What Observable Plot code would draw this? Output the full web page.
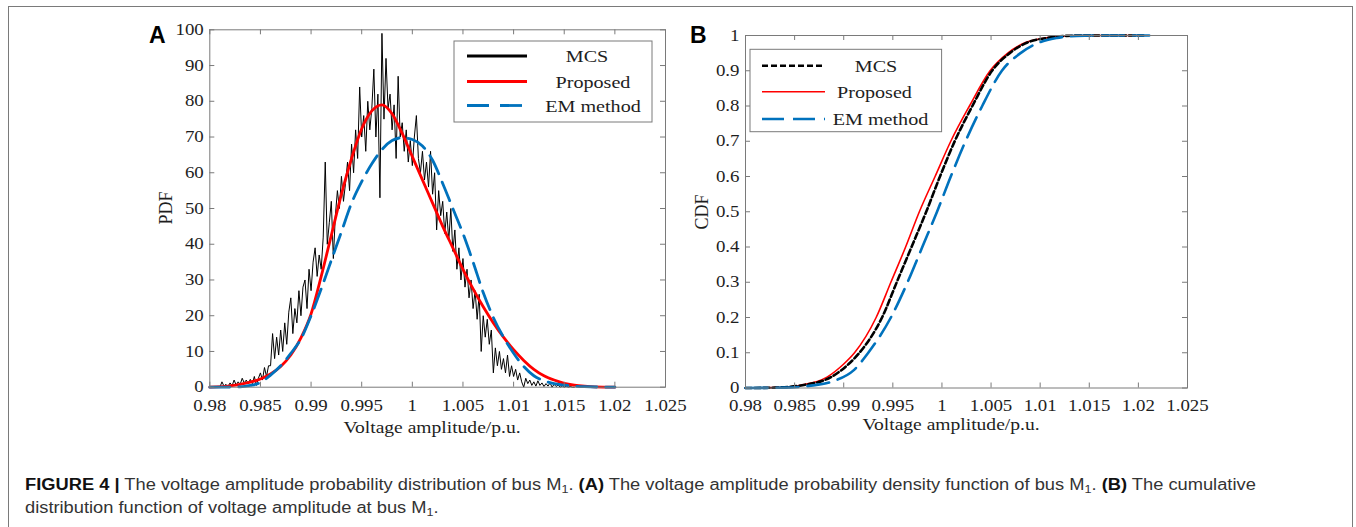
<!DOCTYPE html>
<html><head><meta charset="utf-8">
<script src="https://cdn.jsdelivr.net/npm/d3@7"></script>
<script src="https://cdn.jsdelivr.net/npm/@observablehq/plot@0.6"></script>
<style>
body{margin:0;background:#fff;width:1356px;height:527px;position:relative;overflow:hidden;}
#frame{position:absolute;left:8px;top:6px;width:1343px;height:540px;border:1px solid #7a7a7a;border-bottom:none;}
#pa{position:absolute;left:0;top:0}
#pb{position:absolute;left:680px;top:0}
#pa svg,#pb svg{overflow:visible}
#overlay{position:absolute;left:0;top:0;pointer-events:none}
#caption{position:absolute;left:25px;top:473px;font:16px/23px "Liberation Sans",Arial,sans-serif;color:#333;white-space:nowrap;transform:scaleX(1.143);transform-origin:0 0}
#caption b{color:#111}
#caption sub{font-size:11px;vertical-align:-3px;line-height:0}
</style></head><body>
<div id="frame"></div>
<div id="pa"></div>
<div id="pb"></div>
<div id="caption"><b>FIGURE 4 |</b> The voltage amplitude probability distribution of bus M<sub>1</sub>. <b>(A)</b> The voltage amplitude probability density function of bus M<sub>1</sub>. <b>(B)</b> The cumulative<br>distribution function of voltage amplitude at bus M<sub>1</sub>.</div>
<script>
// ---------- DATA ----------
const xTicks = [0.98, 0.985, 0.99, 0.995, 1, 1.005, 1.01, 1.015, 1.02, 1.025];
const pdfTicks = [0, 10, 20, 30, 40, 50, 60, 70, 80, 90, 100];
const cdfTicks = [0, 0.1, 0.2, 0.3, 0.4, 0.5, 0.6, 0.7, 0.8, 0.9, 1];
const seriesNames = ["MCS", "Proposed", "EM method"];

// Panel A: MCS histogram-based PDF (bins of 0.0002 starting at 0.981)
const mcsBinStart = 0.981, mcsBinWidth = 0.0002;
const mcsPdf = [
  0, 1.5, 0.3, 0.8, 0.2,
  1.2, 0.4, 2.0, 0.6, 1.5,
  0.8, 2.5, 1.2, 2.0, 1.0,
  2.2, 1.0, 3.0, 0.5, 2.5,
  4.0, 2.0, 5.5, 3.0, 6.0,
  6, 15, 8, 14, 9,
  16, 10, 18, 12, 21,
  25, 15, 22, 18, 27,
  20, 28, 30, 22, 33,
  27, 35, 39, 31, 37,
  33, 42, 63, 40, 46,
  52, 36, 48, 55, 50,
  59, 52, 57, 63, 55,
  68, 60, 72, 64, 84,
  70, 76, 66, 80, 72,
  78, 89, 70, 82, 53,
  99, 75, 92, 78, 82,
  72, 79, 64, 87, 70,
  74, 66, 72, 63, 69,
  62, 70, 76, 64, 60,
  66, 58, 63, 56, 66,
  54, 60, 44, 55, 48,
  52, 43, 49, 41, 50,
  38, 44, 33, 39, 30,
  36, 28, 33, 25, 30,
  22, 27, 19, 26, 10,
  20, 14, 19, 12, 16,
  4, 11, 6, 10, 5,
  8, 4, 9, 3, 6,
  3, 5, 2, 4, 1.5,
  0, 2.5, 1, 2, 0.5,
  1.5, 0.3, 1.8, 0.5, 1.2,
  0.2, 1.0, 0.3, 1.2, 0,
  0.8, 0.2, 0.6, 0, 0.4,
  0, 0.3, 0, 0.2, 0,
  0
];
const propPdfX = [0.980,0.982,0.983,0.984,0.985,0.986,0.987,0.988,0.989,0.990,0.991,0.992,0.993,0.994,0.995,0.996,0.997,0.998,0.999,1.000,1.001,1.002,1.003,1.004,1.005,1.006,1.007,1.008,1.009,1.010,1.011,1.012,1.013,1.014,1.015,1.016,1.017,1.018,1.020];
const propPdfY = [0,0.4,0.8,1.4,2.3,3.7,5.8,9,13.8,20.5,31,42.5,54,64,72.3,77.3,79,76.5,71,64.5,58,51.5,45,39,33,27.5,22.5,18,14,10.5,7.5,5,3.2,2,1.1,0.6,0.3,0.1,0];
const emPdfX = [0.980,0.983,0.984,0.985,0.986,0.987,0.988,0.989,0.990,0.991,0.992,0.993,0.994,0.995,0.996,0.997,0.998,0.999,1.000,1.001,1.002,1.003,1.004,1.005,1.006,1.007,1.008,1.009,1.010,1.011,1.012,1.013,1.014,1.015,1.016,1.017,1.020];
const emPdfY = [0,0.1,0.5,1.3,3.4,6,9.5,13.5,20,27.5,35.5,43.5,51.5,57.5,62.5,66.5,69,69.8,69.3,67.5,63.5,57,50,43,35,26.5,19.5,14,9.5,5.8,3.2,1.8,1.0,0.6,0.3,0.15,0];

// Panel B: CDFs
const cdfLevels = [0,0.001,0.008,0.031,0.068,0.1,0.2,0.3,0.4,0.5,0.6,0.7,0.8,0.9,0.95,0.98,0.993,0.999,1,1];
const propCdfX = [0.980,0.983,0.9856,0.9883,0.9900,0.9911,0.9933,0.9948,0.9963,0.9977,0.9993,1.0009,1.0028,1.0049,1.0067,1.0085,1.0105,1.0125,1.015,1.0200];
const mcsCdfX  = [0.980,0.983,0.9858,0.9887,0.9905,0.9916,0.9939,0.9954,0.9969,0.9984,0.9998,1.0013,1.0031,1.0051,1.0069,1.0087,1.0107,1.0127,1.015,1.0205];
const emCdfLevels = [0,0.001,0.006,0.02,0.05,0.1,0.2,0.3,0.4,0.5,0.6,0.7,0.8,0.9,0.95,0.98,0.993,0.999,1,1];
const emCdfX   = [0.980,0.984,0.9865,0.9890,0.9910,0.9925,0.9948,0.9965,0.9980,0.9995,1.0009,1.0024,1.0041,1.0061,1.0080,1.0099,1.0117,1.0137,1.016,1.0211];

// ---------- BUILD ----------
const mcsRows = mcsPdf.map((p, i) => ({v: mcsBinStart + i * mcsBinWidth, p}));
const zip = (xs, ys) => xs.map((v, i) => ({v, p: ys[i]}));
const propPdf = zip(propPdfX, propPdfY), emPdf = zip(emPdfX, emPdfY);
const propCdf = zip(propCdfX, cdfLevels), mcsCdf = zip(mcsCdfX, cdfLevels), emCdf = zip(emCdfX, emCdfLevels);

const RED = "#ff0000", BLUE = "#0072bd", GRID = "#7a7a7a";
const fmt = d => String(+d.toFixed(4));
const serif = '"Liberation Serif","Times New Roman",serif';

function boxTicks(xt, yt, innerW, innerH) {
  const L = 5;
  return [
    Plot.tickX(xt, {x: d => d, stroke: GRID, insetTop: innerH - L}),
    Plot.tickX(xt, {x: d => d, stroke: GRID, insetBottom: innerH - L}),
    Plot.tickY(yt, {y: d => d, stroke: GRID, insetRight: innerW - L}),
    Plot.tickY(yt, {y: d => d, stroke: GRID, insetLeft: innerW - L}),
    Plot.frame({stroke: GRID})
  ];
}

// Panel A geometry
const A = {w: 680, h: 440, ml: 209.3, mr: 15, mt: 29.3, mb: 53.3};
const Aiw = A.w - A.ml - A.mr, Aih = A.h - A.mt - A.mb;
const plotA = Plot.plot({
  width: A.w, height: A.h,
  marginLeft: A.ml, marginRight: A.mr, marginTop: A.mt, marginBottom: A.mb,
  x: {domain: [0.98, 1.025]},
  y: {domain: [0, 100]},
  style: {fontFamily: serif, fontSize: "16px", color: "#1e1e1e", background: "transparent", overflow: "visible"},
  marks: [
    Plot.line(mcsRows, {x: "v", y: "p", stroke: "black", strokeWidth: 1}),
    Plot.line(propPdf, {x: "v", y: "p", stroke: RED, strokeWidth: 2.8, curve: "monotone-x"}),
    Plot.line(emPdf, {x: "v", y: "p", stroke: BLUE, strokeWidth: 2.8, strokeDasharray: "20,9", curve: "monotone-x"}),
    ...boxTicks(xTicks, pdfTicks, Aiw, Aih),
    Plot.axisX({ticks: xTicks, tickSize: 0, tickPadding: 12, tickFormat: fmt, label: null}),
    Plot.axisY({ticks: pdfTicks, tickSize: 0, tickPadding: 6, tickFormat: fmt, label: null})
  ]
});
document.getElementById("pa").append(plotA);

// Panel B geometry
const B = {w: 676, h: 440, ml: 65, mr: 169, mt: 35, mb: 52.5};
const Biw = B.w - B.ml - B.mr, Bih = B.h - B.mt - B.mb;
const plotB = Plot.plot({
  width: B.w, height: B.h,
  marginLeft: B.ml, marginRight: B.mr, marginTop: B.mt, marginBottom: B.mb,
  x: {domain: [0.98, 1.025]},
  y: {domain: [0, 1]},
  style: {fontFamily: serif, fontSize: "16px", color: "#1e1e1e", background: "transparent", overflow: "visible"},
  marks: [
    Plot.line(propCdf, {x: "v", y: "p", stroke: RED, strokeWidth: 1.6, curve: "monotone-x"}),
    Plot.line(mcsCdf, {x: "v", y: "p", stroke: "black", strokeWidth: 2.6, strokeDasharray: "6,3", curve: "monotone-x"}),
    Plot.line(emCdf, {x: "v", y: "p", stroke: BLUE, strokeWidth: 2.6, strokeDasharray: "22,9", curve: "monotone-x"}),
    ...boxTicks(xTicks, cdfTicks, Biw, Bih),
    Plot.axisX({ticks: xTicks, tickSize: 0, tickPadding: 12, tickFormat: fmt, label: null}),
    Plot.axisY({ticks: cdfTicks, tickSize: 0, tickPadding: 6, tickFormat: fmt, label: null})
  ]
});
document.getElementById("pb").append(plotB);

// ---------- OVERLAY: titles, legends, panel letters ----------
const ov = d3.select("body").append("svg").attr("id", "overlay").attr("width", 1356).attr("height", 527);
function stext(x, y, s, opts = {}) {
  return ov.append("text").attr("x", x).attr("y", y).text(s)
    .attr("font-family", opts.family || serif).attr("font-size", opts.size || 17)
    .attr("font-weight", opts.weight || "normal").attr("fill", opts.fill || "#1e1e1e")
    .attr("text-anchor", opts.anchor || "middle").attr("class", opts.cls || "stretch")
    .attr("transform", opts.rotate ? `rotate(-90 ${x} ${y})` : null);
}
// panel letters
stext(149, 43.3, "A", {family: '"Liberation Sans",Arial,sans-serif', size: 23, weight: "bold", anchor: "start", fill: "#000", cls: "nostretch"});
stext(690, 43.3, "B", {family: '"Liberation Sans",Arial,sans-serif', size: 23, weight: "bold", anchor: "start", fill: "#000", cls: "nostretch"});
// axis titles
stext(432, 433, "Voltage amplitude/p.u.");
stext(951, 430, "Voltage amplitude/p.u.");
stext(172, 208, "PDF", {rotate: true, size: 18, cls: "nostretch"});
stext(708, 212, "CDF", {rotate: true, size: 18, cls: "nostretch"});

function legend(box, rows) {
  ov.append("rect").attr("x", box.x).attr("y", box.y).attr("width", box.w).attr("height", box.h)
    .attr("fill", "white").attr("stroke", GRID).attr("stroke-width", 1);
  rows.forEach(r => {
    ov.append("line").attr("x1", r.x1).attr("x2", r.x2).attr("y1", r.y).attr("y2", r.y)
      .attr("stroke", r.color).attr("stroke-width", r.sw).attr("stroke-dasharray", r.dash || null);
    stext(r.tx, r.y + 6, r.name, {size: 17.5});
  });
}
legend({x: 454, y: 41, w: 198, h: 81}, [
  {name: seriesNames[0], color: "black", sw: 2.8, x1: 467, x2: 527, y: 56, tx: 587},
  {name: seriesNames[1], color: RED, sw: 2.8, x1: 467, x2: 527, y: 81.5, tx: 593},
  {name: seriesNames[2], color: BLUE, sw: 2.8, dash: "22,11", x1: 467, x2: 527, y: 105.5, tx: 593}
]);
legend({x: 750, y: 49.3, w: 191.6, h: 82.4}, [
  {name: seriesNames[0], color: "black", sw: 2.6, dash: "6,3", x1: 762, x2: 825, y: 65.7, tx: 876},
  {name: seriesNames[1], color: RED, sw: 1.6, x1: 762, x2: 825, y: 91.7, tx: 874.5},
  {name: seriesNames[2], color: BLUE, sw: 2.6, dash: "22,9", x1: 762, x2: 825, y: 119, tx: 880.5}
]);

// horizontal stretch of serif text to mimic the reference's aspect
function stretch(root, f) {
  root.querySelectorAll("text").forEach(t => {
    if (t.classList.contains("nostretch") || !t.textContent.trim()) return;
    const w = t.getComputedTextLength();
    t.setAttribute("textLength", (w * f).toFixed(2));
    t.setAttribute("lengthAdjust", "spacingAndGlyphs");
  });
}
stretch(plotA, 1.18);
stretch(plotB, 1.18);
stretch(ov.node(), 1.15);
</script>
</body></html>
